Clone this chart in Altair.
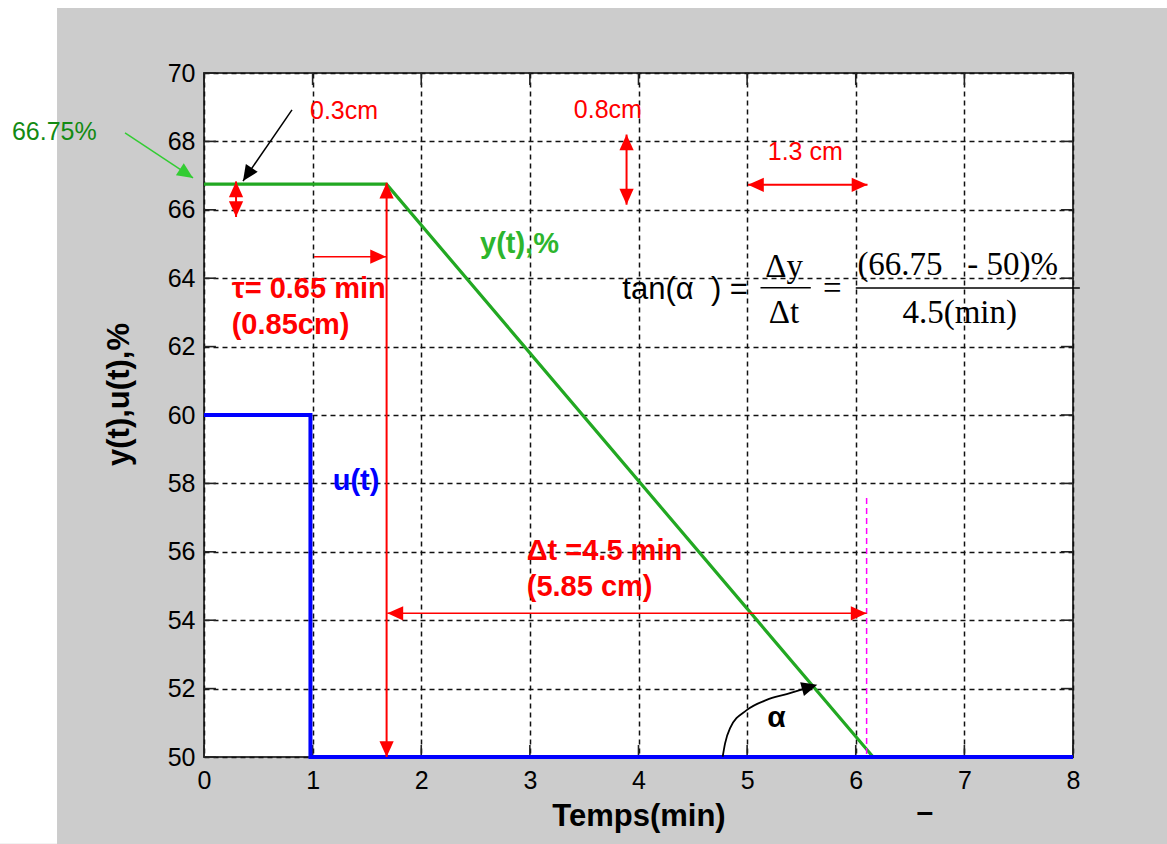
import altair as alt
import pandas as pd

# ---------------- data ----------------
t_y = [0.0, 1.68, 6.16, 8.0]
y_pct = [66.75, 66.75, 50.0, 50.0]
t_u = [0.0, 0.98, 0.98, 8.0]
u_pct = [60.0, 60.0, 50.0, 50.0]

x_ticks = [0, 1, 2, 3, 4, 5, 6, 7, 8]
y_ticks = [50, 52, 54, 56, 58, 60, 62, 64, 66, 68, 70]

# annotation segments (data units)
seg_x = [0.295, 1.681, 1.013, 3.89, 5.008, 1.688, -0.727, 0.81, 5.123, 6.0]
seg_y = [66.83, 66.79, 64.63, 68.2, 66.73, 54.2, 68.25, 68.92, 63.72, 63.71]
seg_x2 = [0.295, 1.681, 1.676, 3.89, 6.108, 6.10, -0.101, 0.359, 5.586, 8.063]
seg_y2 = [65.79, 50.0, 64.63, 66.15, 66.73, 54.2, 66.93, 66.84, 63.72, 63.71]
seg_color = ["#ff0000"] * 6 + ["#33cc33", "#000000", "#000000", "#000000"]
seg_width = [2, 2, 1.5, 2, 2, 1.5, 1.5, 1.5, 1.5, 1.5]

# dashed magenta marker at end of ramp
mag_x = [6.10]
mag_y = [57.57]
mag_y2 = [50.0]

# curved angle arrow
curve_x = [4.775, 4.797, 4.842, 4.996, 5.18, 5.364, 5.60]
curve_y = [50.01, 50.40, 50.84, 51.37, 51.67, 51.84, 52.07]

# arrow heads: tip position, rotation (deg), colour
head_x = [0.295, 0.295, 1.681, 1.681, 1.676, 3.89, 3.89, 5.008, 6.108, 1.688, 6.10, -0.101, 0.359, 5.646]
head_y = [66.83, 65.79, 66.79, 50.0, 64.63, 68.2, 66.15, 66.73, 66.73, 54.2, 54.2, 66.93, 66.84, 52.11]
head_angle = [0, 180, 0, 180, 90, 0, 180, 270, 90, 270, 90, 123.5, 213.7, 74.5]
head_color = ["#ff0000"] * 11 + ["#33cc33", "#000000", "#000000"]

NB = "\u00a0"

# texts
txt_reg = ["66.75%", "0.3cm", "0.8cm", "1.3 cm"]
txt_reg_x = [-1.768, 0.976, 3.405, 5.19]
txt_reg_y = [68.27, 68.90, 68.92, 67.70]
txt_reg_c = ["#138a13", "#ff0000", "#ff0000", "#ff0000"]

txt_bold = ["τ= 0.65 min", "(0.85cm)", "y(t),%", "u(t)", "Δt =4.5 min", "(5.85 cm)"]
txt_bold_x = [0.255, 0.255, 2.541, 1.185, 2.971, 2.971]
txt_bold_y = [63.68, 62.63, 65.0, 58.08, 56.02, 54.96]
txt_bold_c = ["#ff0000", "#ff0000", "#2db52d", "#0000ff", "#ff0000", "#ff0000"]

txt_mid = ["α", "–"]
txt_mid_x = [5.269, 6.637]
txt_mid_y = [51.13, 48.35]

tan_txt = ["tan(α" + NB * 2 + ") ="]
tan_x = [3.851]
tan_y = [63.40]

frac_txt = ["Δy", "Δt", "=", "4.5(min)"]
frac_x = [5.34, 5.34, 5.784, 6.957]
frac_y = [64.04, 62.68, 63.40, 62.68]

num_txt = ["(66.75" + NB * 3 + "- 50)%"]
num_x = [6.015]
num_y = [64.09]

# white margin strips outside the grey figure
strip_x = [-1.878, -1.878]
strip_x2 = [-1.353, 8.865]
strip_y = [47.46, 71.90]
strip_y2 = [72.134, 72.134]

# ---------------- encodings ----------------
SANS = "Liberation Sans"
SERIF = "Liberation Serif"

xaxis = alt.Axis(values=x_ticks, title="Temps(min)", grid=True, gridColor="#111111",
                 gridDash=[5, 4], gridWidth=1.5, domain=False, ticks=True, tickSize=0,
                 labelFont=SANS, labelFontSize=25, labelColor="#000000", labelPadding=31,
                 labelBaseline="alphabetic", labelFlush=False, labelOverlap=False,
                 titleFont=SANS, titleFontSize=31, titleFontWeight="bold", titleColor="#000000",
                 titleBaseline="alphabetic", titleY=68)
yaxis = alt.Axis(values=y_ticks, title="y(t),u(t),%", grid=True, gridColor="#111111",
                 gridDash=[5, 4], gridWidth=1.5, domain=False, ticks=True, tickSize=0,
                 labelFont=SANS, labelFontSize=25, labelColor="#000000", labelPadding=9,
                 labelFlush=False, labelOverlap=False,
                 titleFont=SANS, titleFontSize=31, titleFontWeight="bold", titleColor="#000000",
                 titleBaseline="alphabetic", titleAngle=270, titleX=-76, titleY=321)

X = alt.X("x:Q", scale=alt.Scale(domain=[0, 8], nice=False, zero=False), axis=xaxis)
Y = alt.Y("y:Q", scale=alt.Scale(domain=[50, 70], nice=False, zero=False), axis=yaxis)

ARROW = "M0,0L0.45,1L-0.45,1Z"

# ---------------- tables ----------------
strips = pd.DataFrame({"x": strip_x, "x2": strip_x2, "y": strip_y, "y2": strip_y2})

tx = []
ty = []
tx2 = []
ty2 = []
for v in x_ticks:
    tx += [v, v]; tx2 += [v, v]
    ty += [50, 70]; ty2 += [50.35, 69.65]
for v in y_ticks:
    tx += [0, 8]; tx2 += [0.11, 7.89]
    ty += [v, v]; ty2 += [v, v]
ticks = pd.DataFrame({"x": tx, "y": ty, "x2": tx2, "y2": ty2})

ydf = pd.DataFrame({"x": t_y, "y": y_pct, "i": range(len(t_y))})
udf = pd.DataFrame({"x": t_u, "y": u_pct, "i": range(len(t_u))})
segs = pd.DataFrame({"x": seg_x, "y": seg_y, "x2": seg_x2, "y2": seg_y2,
                     "c": seg_color, "w": seg_width})
mag = pd.DataFrame({"x": mag_x, "y": mag_y, "y2": mag_y2})
curve = pd.DataFrame({"x": curve_x, "y": curve_y, "i": range(len(curve_x))})
heads = pd.DataFrame({"x": head_x, "y": head_y, "a": head_angle, "c": head_color})

reg = pd.DataFrame({"x": txt_reg_x, "y": txt_reg_y, "t": txt_reg, "c": txt_reg_c})
bold = pd.DataFrame({"x": txt_bold_x, "y": txt_bold_y, "t": txt_bold, "c": txt_bold_c})
mid = pd.DataFrame({"x": txt_mid_x, "y": txt_mid_y, "t": txt_mid})
tan = pd.DataFrame({"x": tan_x, "y": tan_y, "t": tan_txt})
frac = pd.DataFrame({"x": frac_x, "y": frac_y, "t": frac_txt})
num = pd.DataFrame({"x": num_x, "y": num_y, "t": num_txt})

# ---------------- layers ----------------
l_strip = alt.Chart(strips).mark_rect(color="#ffffff").encode(
    x=X, x2="x2:Q", y=Y, y2="y2:Q")
l_ticks = alt.Chart(ticks).mark_rule(color="#222222", strokeWidth=1.6).encode(
    x=X, x2="x2:Q", y=Y, y2="y2:Q")
l_y = alt.Chart(ydf).mark_line(color="#22a822", strokeWidth=3.2).encode(x=X, y=Y, order="i:Q")
l_u = alt.Chart(udf).mark_line(color="#0000ff", strokeWidth=4).encode(x=X, y=Y, order="i:Q")
l_mag = alt.Chart(mag).mark_rule(color="#ff00ff", strokeWidth=1.5, strokeDash=[6, 4]).encode(
    x=X, y=Y, y2="y2:Q")
l_segs = alt.Chart(segs).mark_rule().encode(
    x=X, x2="x2:Q", y=Y, y2="y2:Q",
    color=alt.Color("c:N", scale=None), strokeWidth=alt.StrokeWidth("w:Q", scale=None))
l_curve = alt.Chart(curve).mark_line(color="#000000", strokeWidth=1.8, interpolate="monotone").encode(
    x=X, y=Y, order="i:Q")
l_heads = alt.Chart(heads).mark_point(shape=ARROW, filled=True, opacity=1, strokeWidth=0, size=1000).encode(
    x=X, y=Y, angle=alt.Angle("a:Q", scale=None), color=alt.Color("c:N", scale=None))

l_reg = alt.Chart(reg).mark_text(font=SANS, fontSize=25, align="left", baseline="middle").encode(
    x=X, y=Y, text="t:N", color=alt.Color("c:N", scale=None))
l_bold = alt.Chart(bold).mark_text(font=SANS, fontSize=29, fontWeight="bold", align="left",
                                   baseline="middle").encode(
    x=X, y=Y, text="t:N", color=alt.Color("c:N", scale=None))
l_mid = alt.Chart(mid).mark_text(font=SANS, fontSize=30, fontWeight="bold", align="center",
                                 baseline="middle", color="#000000").encode(x=X, y=Y, text="t:N")
l_tan = alt.Chart(tan).mark_text(font=SANS, fontSize=31, align="left", baseline="alphabetic",
                                 color="#000000").encode(x=X, y=Y, text="t:N")
l_frac = alt.Chart(frac).mark_text(font=SERIF, fontSize=33, align="center", baseline="alphabetic",
                                   color="#000000").encode(x=X, y=Y, text="t:N")
l_num = alt.Chart(num).mark_text(font=SERIF, fontSize=33, align="left", baseline="alphabetic",
                                 color="#000000").encode(x=X, y=Y, text="t:N")

chart = alt.layer(
    l_strip, l_ticks, l_y, l_u, l_mag, l_segs, l_curve, l_heads,
    l_reg, l_bold, l_mid, l_tan, l_frac, l_num
).properties(
    width=869, height=684, background="#cccccc",
    padding={"left": 204, "top": 73, "right": 94, "bottom": 87},
    autosize=alt.AutoSizeParams(type="none"),
).configure_view(fill="#ffffff", stroke="#3a3a3a", strokeWidth=2)

chart.save("out.html", embed_options={"renderer": "svg", "actions": False})
